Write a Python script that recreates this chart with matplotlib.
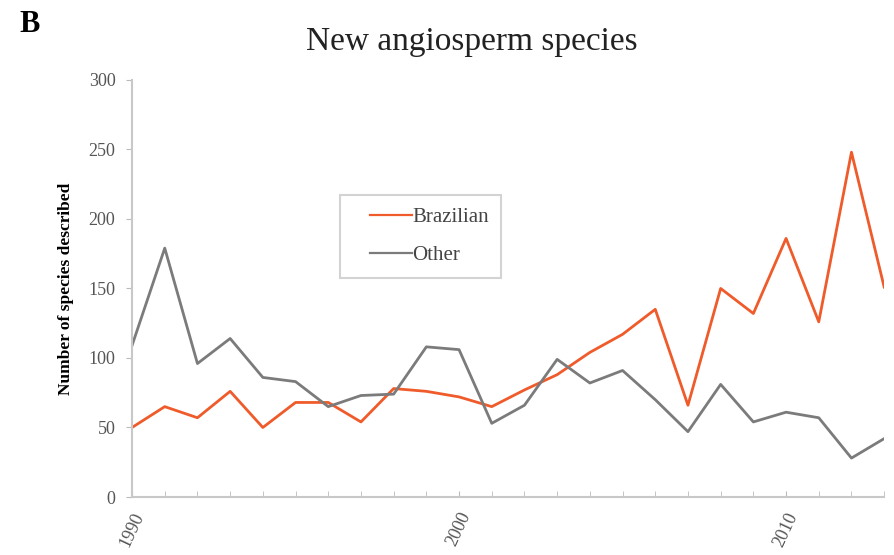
import numpy as np
import matplotlib.pyplot as plt
from matplotlib.legend_handler import HandlerLine2D

plt.rcParams['font.family'] = ['Liberation Serif', 'DejaVu Serif']

# data
years = np.arange(1990, 2014)
brazilian = [50, 65, 57, 76, 50, 68, 68, 54, 78, 76, 72, 65, 77, 88, 104, 117, 135, 66,
             150, 132, 186, 126, 248, 151]
other = [109, 179, 96, 114, 86, 83, 65, 73, 74, 108, 106, 53, 66, 99, 82, 91, 70, 47,
         81, 54, 61, 57, 28, 42]
yticks = [0, 50, 100, 150, 200, 250, 300]
xlabels = [1990, 2000, 2010]

fig = plt.figure(figsize=(8.94, 5.55), dpi=100)
ax = fig.add_axes([0.1477, 0.1045, 0.8413, 0.7515])

ax.plot(years, brazilian, color='#ef5b2a', lw=2.0, label='Brazilian')
ax.plot(years, other, color='#7b7b7b', lw=2.0, label='Other')

ax.set_xlim(1990, 2013)
ax.set_ylim(0, 300)
ax.set_yticks(yticks)
ax.set_xticks(xlabels)
ax.set_xticks(years, minor=True)
ax.set_xticklabels([str(x) for x in xlabels], rotation=65, ha='center',
                   fontsize=13, color='#555555')
ax.tick_params(axis='y', labelsize=13, labelcolor='#555555', color='#bbbbbb',
               length=4, pad=8)
ax.tick_params(axis='x', which='both', direction='in', color='#bbbbbb', length=4, pad=9)

for s in ['top', 'right']:
    ax.spines[s].set_visible(False)
for s in ['left', 'bottom']:
    ax.spines[s].set_color('#c8c8c8')
    ax.spines[s].set_linewidth(1.5)

ax.set_ylabel('Number of species described', fontsize=12.5, fontweight='bold', labelpad=10)

hmap = {l: HandlerLine2D(xpad=0.85) for l in ax.get_lines()}
leg = ax.legend(loc='upper left', bbox_to_anchor=(0.2766, 0.724), handlelength=2.85,
                handletextpad=0.0, fontsize=15, frameon=True, fancybox=False,
                borderpad=0.6, labelspacing=0.9, borderaxespad=0, handler_map=hmap)
leg.get_frame().set_edgecolor('#c8c8c8')
leg.get_frame().set_linewidth(1.5)
for t in leg.get_texts():
    t.set_color('#444444')
for l in leg.get_lines():
    l.set_linewidth(1.6)

fig.text(0.528, 0.925, 'New angiosperm species', fontsize=24, ha='center', va='center',
         color='#222222')
fig.text(0.022, 0.955, 'B', fontsize=22, fontweight='bold', ha='left', va='center')

fig.savefig('out.png', dpi=100)
